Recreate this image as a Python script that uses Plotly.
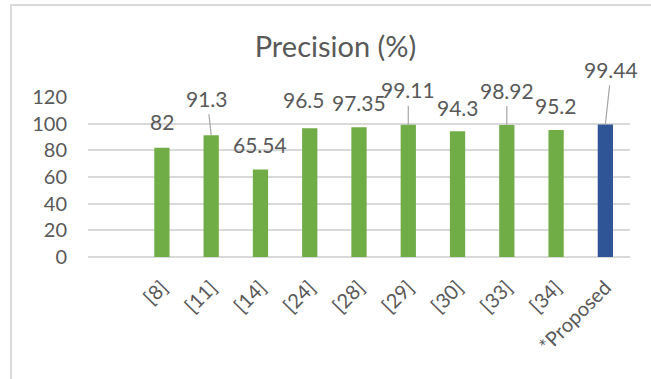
import plotly.graph_objects as go

# Precision of each compared method (%)
methods = ["[8]", "[11]", "[14]", "[24]", "[28]", "[29]", "[30]", "[33]", "[34]", "*Proposed"]
precision = [82, 91.3, 65.54, 96.5, 97.35, 99.11, 94.3, 98.92, 95.2, 99.44]

# Label placement: (dx, dy) pixel offset of each label and whether it uses a leader line
label_offsets = [(0, 26), (-4, -37), (-0.5, 25), (-6, 29), (0, 25),
                 (0, -35), (0, 24), (0, -35), (0, 24.5), (6, -55)]
leader = [False, True, False, False, False, True, False, True, False, True]

y_ticks = [0, 20, 40, 60, 80, 100, 120]

GREEN = "#70AD47"
BLUE = "#2F5597"
TEXT = "#595959"
GRID = "#D9D9D9"
FONT = "Lato"

colors = [GREEN] * (len(methods) - 1) + [BLUE]

fig = go.Figure(go.Bar(
    x=methods,
    y=precision,
    marker=dict(color=colors, line=dict(width=0)),
    width=0.31,
    hoverinfo="x+y",
))

annotations = []
for m, v, (dx, dy), lead in zip(methods, precision, label_offsets, leader):
    txt = f"{v:g}"
    if lead:
        annotations.append(dict(
            x=m, y=v, xref="x", yref="y", text=txt,
            showarrow=True, arrowhead=0, arrowwidth=1.2, arrowcolor="#A6A6A6",
            ax=dx, ay=dy, startstandoff=2,
            font=dict(family=FONT, size=21, color=TEXT),
        ))
    else:
        annotations.append(dict(
            x=m, y=v, xref="x", yref="y", text=txt,
            showarrow=False, xanchor="center", yanchor="middle",
            xshift=dx, yshift=dy,
            font=dict(family=FONT, size=21, color=TEXT),
        ))

fig.update_layout(
    width=651, height=379,
    margin=dict(l=88, r=21, t=97, b=122),
    paper_bgcolor="white",
    plot_bgcolor="white",
    showlegend=False,
    title=dict(
        text="Precision (%)",
        x=335.5 / 651, xref="container", xanchor="center",
        y=1 - 47 / 379, yref="container", yanchor="middle",
        font=dict(family=FONT, size=29, color=TEXT),
    ),
    font=dict(family=FONT, color=TEXT),
    annotations=annotations,
    shapes=[dict(
        type="rect", xref="paper", yref="paper",
        x0=(11 - 88) / 542, x1=2, y0=-3, y1=(257 - 6) / 159.4,
        line=dict(color=GRID, width=2), fillcolor="rgba(0,0,0,0)", layer="below",
    )],
)

fig.update_xaxes(
    type="category",
    range=[-1.5, len(methods) - 0.5],
    tickangle=-45,
    tickfont=dict(family=FONT, size=20, color=TEXT),
    showgrid=False,
    showline=False,
    ticks="",
    zeroline=False,
    ticklabelstandoff=14,
)

fig.update_yaxes(
    range=[0, 120],
    tickvals=y_ticks,
    tickfont=dict(family=FONT, size=20, color=TEXT),
    showgrid=True, gridcolor=GRID, gridwidth=1.5,
    zeroline=True, zerolinecolor=GRID, zerolinewidth=1.5,
    showline=False,
    ticks="",
    ticklabelstandoff=20,
)

fig.write_html("out.html")
